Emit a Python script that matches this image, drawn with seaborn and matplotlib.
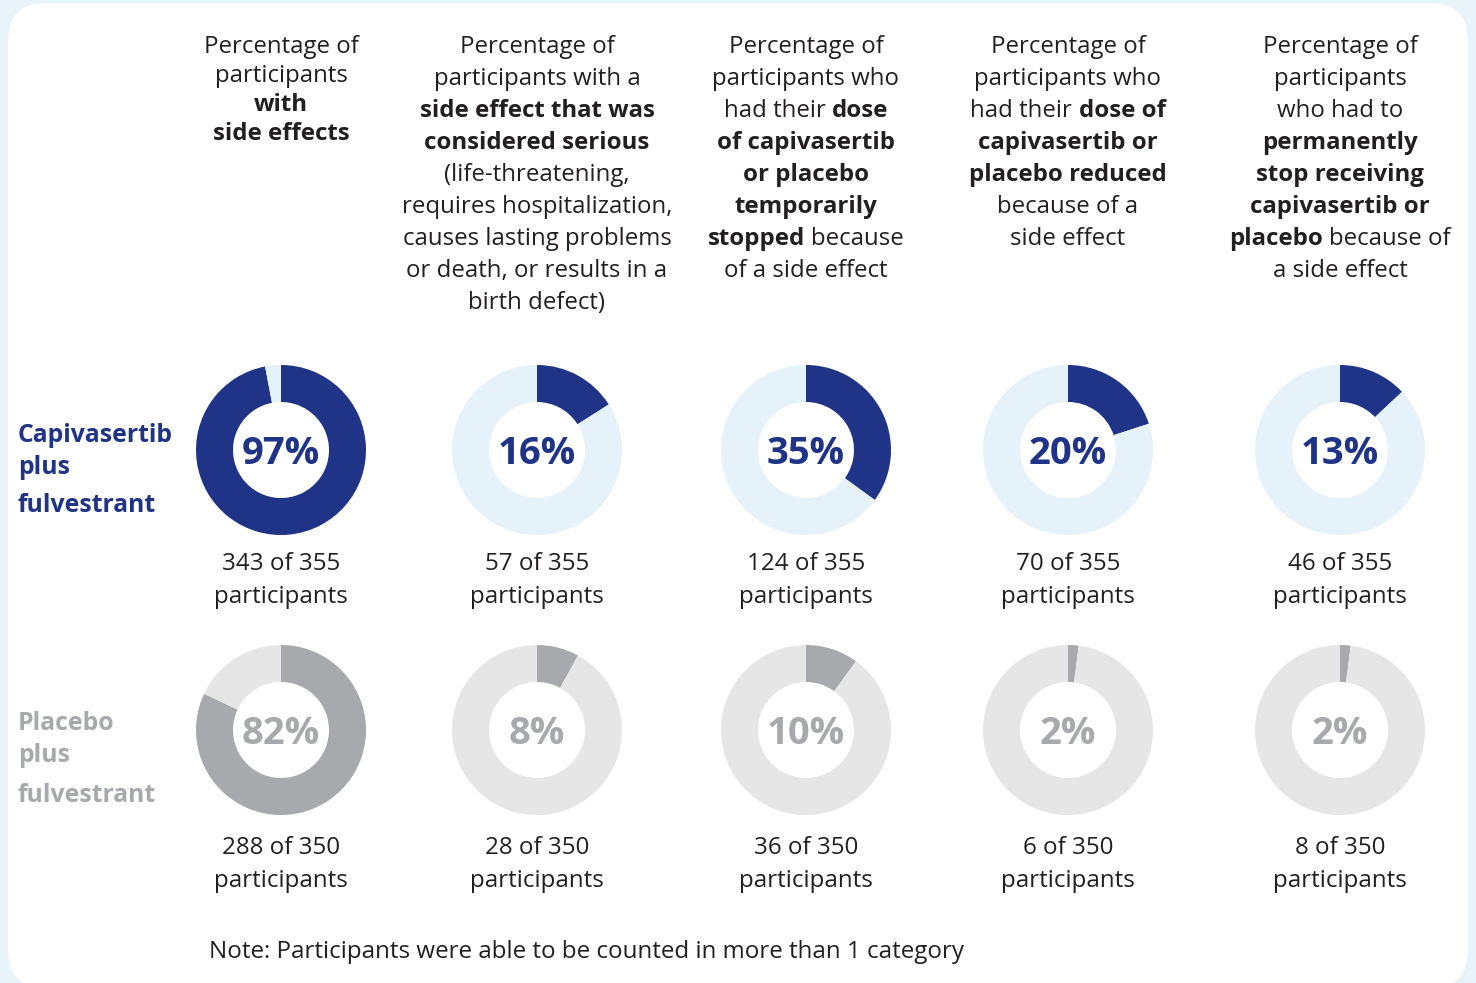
import matplotlib
matplotlib.use("Agg")
import matplotlib.pyplot as plt
from matplotlib.patches import FancyBboxPatch
import seaborn as sns

# ---------------- data ----------------
groups = ["Capivasertib\nplus\nfulvestrant", "Placebo\nplus\nfulvestrant"]
capi_pct = [97, 16, 35, 20, 13]
capi_n = [343, 57, 124, 70, 46]
capi_total = 355
plac_pct = [82, 8, 10, 2, 2]
plac_n = [288, 28, 36, 6, 8]
plac_total = 350

headers = [
    [[("Percentage of", False)], [("participants", False)], [("with", True)], [("side effects", True)]],
    [[("Percentage of", False)], [("participants with a", False)], [("side effect that was", True)],
     [("considered serious", True)], [("(life-threatening,", False)], [("requires hospitalization,", False)],
     [("causes lasting problems", False)], [("or death, or results in a", False)], [("birth defect)", False)]],
    [[("Percentage of", False)], [("participants who", False)], [("had their", False), ("dose", True)],
     [("of capivasertib", True)], [("or placebo", True)], [("temporarily", True)],
     [("stopped", True), ("because", False)], [("of a side effect", False)]],
    [[("Percentage of", False)], [("participants who", False)], [("had their", False), ("dose of", True)],
     [("capivasertib or", True)], [("placebo reduced", True)], [("because of a", False)], [("side effect", False)]],
    [[("Percentage of", False)], [("participants", False)], [("who had to", False)], [("permanently", True)],
     [("stop receiving", True)], [("capivasertib or", True)], [("placebo", True), ("because of", False)],
     [("a side effect", False)]],
]
note = "Note: Participants were able to be counted in more than 1 category"

# ---------------- style ----------------
sns.set_style("white")
FONT = "Open Sans"
plt.rcParams["font.family"] = [FONT, "DejaVu Sans"]

W, H = 1476, 983
DARK_BLUE = "#1F3387"
LIGHT_BLUE = "#E6F2FA"
GRAY = "#A7A9AC"
LIGHT_GRAY = "#E6E6E6"
TEXT = "#231F20"
BG = "#E8F3FA"

fig = plt.figure(figsize=(W / 100, H / 100), dpi=100, facecolor=BG)
ax = fig.add_axes([0, 0, 1, 1])
ax.set_facecolor("none")

def Y(y):
    return H - y

panel = FancyBboxPatch((8, Y(988)), 1460, 985, boxstyle="round,pad=0,rounding_size=38",
                       facecolor="white", edgecolor="none", zorder=0)
ax.add_patch(panel)

col_x = [281, 537, 806, 1068, 1340]
row_y = [450, 730]
R_OUT, WIDTH = 85, 37

for i, cx in enumerate(col_x):
    for r, (pcts, fg, bg, tc) in enumerate([(capi_pct, DARK_BLUE, LIGHT_BLUE, DARK_BLUE),
                                            (plac_pct, GRAY, LIGHT_GRAY, GRAY)]):
        p = pcts[i]
        ax.pie([p, 100 - p], colors=[fg, bg], startangle=90, counterclock=False,
               center=(cx, Y(row_y[r])), radius=R_OUT,
               wedgeprops=dict(width=WIDTH, edgecolor="none", linewidth=0))
        ax.text(cx, Y(row_y[r] + 4), f"{p}%", ha="center", va="center", fontsize=27.5,
                fontweight="bold", color=tc, zorder=5)

ax.set_xlim(0, W)
ax.set_ylim(0, H)
ax.set_aspect("auto")
ax.axis("off")

# counts
CS = 17.4
for i, cx in enumerate(col_x):
    ax.text(cx, Y(564), f"{capi_n[i]} of {capi_total}", ha="center", va="center", fontsize=CS, color=TEXT)
    ax.text(cx, Y(597), "participants", ha="center", va="center", fontsize=CS, color=TEXT)
    ax.text(cx, Y(848), f"{plac_n[i]} of {plac_total}", ha="center", va="center", fontsize=CS, color=TEXT)
    ax.text(cx, Y(881), "participants", ha="center", va="center", fontsize=CS, color=TEXT)

# row labels
lab_y = [[435, 467, 506], [723, 755, 795]]
for g, (label, col) in enumerate(zip(groups, [DARK_BLUE, GRAY])):
    for j, line in enumerate(label.split("\n")):
        ax.text(18, Y(lab_y[g][j]), line, ha="left", va="center", fontsize=17.8,
                fontweight="bold", color=col)

# headers with mixed weights
renderer = fig.canvas.get_renderer()
HSIZE = 17.3

def measure(s, bold):
    t = ax.text(0, 0, s, fontsize=HSIZE, fontweight="bold" if bold else "normal")
    w = t.get_window_extent(renderer).width
    t.remove()
    return w

space_w = measure("x x", False) - measure("xx", False)

for i, cx in enumerate(col_x):
    lines = headers[i]
    spacing = 29 if i == 0 else 32
    for j, segs in enumerate(lines):
        y = 47 + j * spacing
        widths = [measure(s, b) for s, b in segs]
        total = sum(widths) + space_w * (len(segs) - 1)
        x = cx - total / 2
        for (s, b), w in zip(segs, widths):
            ax.text(x, Y(y), s, ha="left", va="center", fontsize=HSIZE,
                    fontweight="bold" if b else "normal", color=TEXT)
            x += w + space_w

ax.text(209, Y(952), note, ha="left", va="center", fontsize=17.4, color=TEXT)

fig.savefig("out.png", dpi=100, facecolor=BG)
